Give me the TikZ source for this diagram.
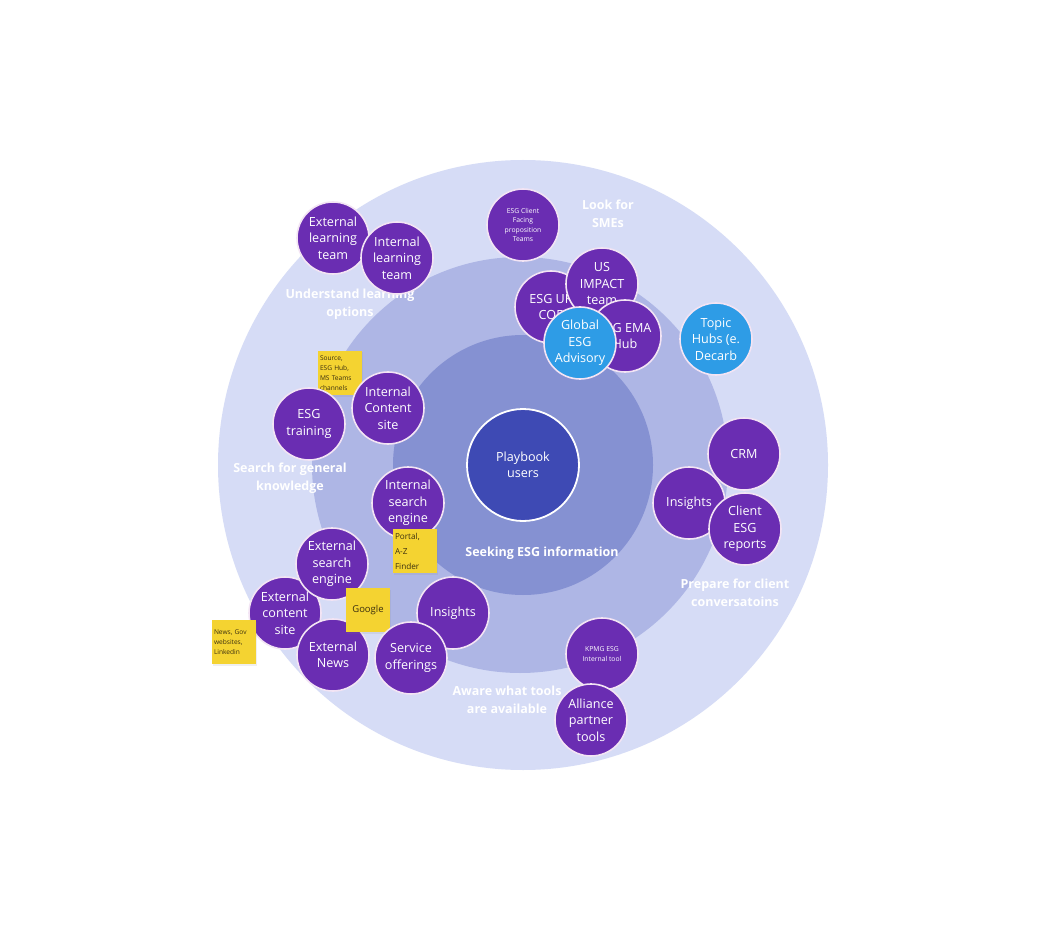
\documentclass[tikz,border=0pt]{standalone}
\usepackage{fontspec}
\setmainfont{Open Sans}
\usetikzlibrary{shadows}
\definecolor{ringA}{HTML}{D6DCF6}
\definecolor{ringB}{HTML}{AEB6E5}
\definecolor{ringC}{HTML}{8591D2}
\definecolor{core}{HTML}{3E4AB4}
\definecolor{purp}{HTML}{6A2DB2}
\definecolor{skyb}{HTML}{2E9CE6}
\definecolor{edgec}{HTML}{F3E4F4}
\definecolor{notec}{HTML}{F4D331}
\definecolor{notet}{HTML}{3C3010}
\begin{document}
\begin{tikzpicture}[x=1pt,y=-1pt,
  pn/.style={circle, fill=purp, draw=edgec, line width=1.6pt, minimum size=72pt, inner sep=0pt,
    text=white, align=center, font=\fontsize{12.6}{16.5}\selectfont},
  bn/.style={pn, fill=skyb},
  smalltxt/.style={font=\fontsize{6.8}{9.6}\selectfont},
  note/.style={fill=notec, minimum width=44pt, minimum height=44pt, inner sep=2pt, text width=40pt,
    align=left, text=notet, font=\fontsize{6.6}{10}\selectfont,
    drop shadow={opacity=0.12, shadow xshift=1pt, shadow yshift=-1.5pt}},
  lab/.style={text=white, align=center, font=\bfseries\fontsize{12.5}{18}\selectfont}]
\useasboundingbox (0,0) rectangle (1052,949);
\fill[white] (0,0) rectangle (1052,949);
% rings
\node[circle, fill=ringA, minimum size=610pt, inner sep=0pt] (outer) at (523,465) {};
\node[circle, fill=ringB, minimum size=416pt, inner sep=0pt] (middle) at (520,465) {};
\node[circle, fill=ringC, minimum size=260pt, inner sep=0pt] (inner) at (523,465) {};
\node[circle, fill=core, draw=white, line width=1.8pt, minimum size=112pt, inner sep=0pt,
  text=white, align=center, font=\fontsize{12.6}{16.5}\selectfont] (core) at (523,465) {Playbook\\users};
% labels
\node[lab] (lsme) at (608,214) {Look for\\SMEs};
\node[lab] (llearn) at (350,304) {Understand learning\\options};
\node[lab] (lsearch) at (290,478) {Search for general\\knowledge};
\node[lab] (lseek) at (542,553) {Seeking ESG information};
\node[lab] (lprep) at (735,593) {Prepare for client\\conversatoins};
\node[lab] (laware) at (507,700) {Aware what tools\\are available};
% top cluster
\node[pn] (extlearn) at (333,238) {External\\learning\\team};
\node[pn] (intlearn) at (397,258) {Internal\\learning\\team};
\node[pn, smalltxt] (clientfacing) at (523,225) {ESG Client\\Facing\\proposition\\Teams};
\node[pn] (ukcoe) at (551,307) {ESG UK\\COE};
\node[pn] (usimpact) at (602,284) {US\\IMPACT\\team};
\node[pn] (emahub) at (625,336) {ESG EMA\\Hub};
\node[bn] (global) at (580,343) {Global\\ESG\\Advisory};
\node[bn] (topic) at (716,339) {Topic\\Hubs (e.\\Decarb};
% left cluster
\node[note] (n1) at (340,373) {Source,\\ESG Hub,\\MS Teams\\channels};
\node[pn] (intcontent) at (388,408) {Internal\\Content\\site};
\node[pn] (esgtrain) at (309,424) {ESG\\training};
\node[pn] (intsearch) at (408,503) {Internal\\search\\engine};
\node[note, font=\fontsize{8.2}{15}\selectfont] (n2) at (415,551) {Portal,\\A-Z\\Finder};
\node[pn] (extcontent) at (285,613) {External\\content\\site};
\node[pn] (extsearch) at (332,564) {External\\search\\engine};
\node[pn] (extnews) at (333,655) {External\\News};
\node[note, text width=40pt, align=center, font=\fontsize{9.5}{11}\selectfont] (n3) at (368,610) {Google};
\node[note] (n4) at (234,642) {News, Gov\\websites,\\Linkedin};
% bottom cluster
\node[pn] (insb) at (453,613) {Insights};
\node[pn] (service) at (411,658) {Service\\offerings};
\node[pn, smalltxt] (kpmg) at (602,654) {KPMG ESG\\Internal tool};
\node[pn] (alliance) at (591,720) {Alliance\\partner\\tools};
% right cluster
\node[pn] (crm) at (744,454) {CRM};
\node[pn] (insr) at (689,503) {Insights};
\node[pn] (clientrep) at (745,529) {Client\\ESG\\reports};
\end{tikzpicture}
\end{document}
